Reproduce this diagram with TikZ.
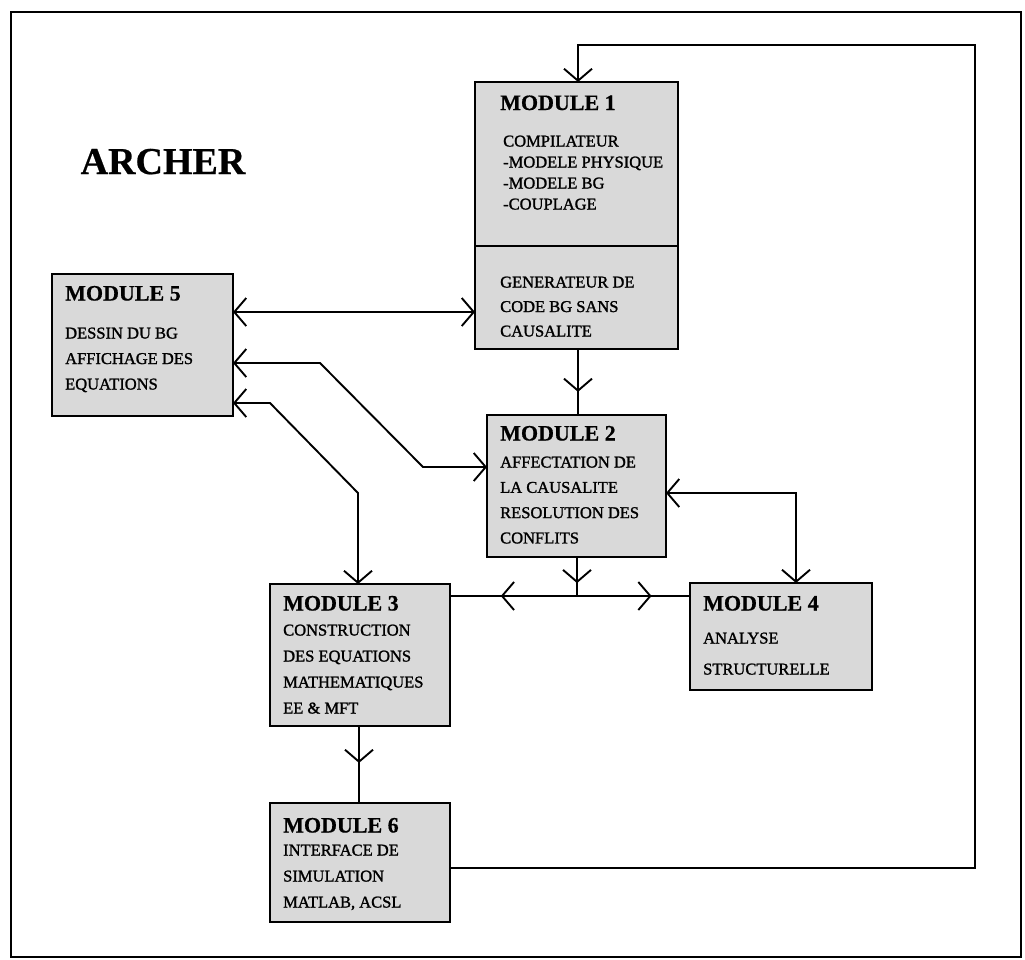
\documentclass[tikz,border=0pt]{standalone}
\usepackage{fontspec}
\setmainfont{Liberation Serif}
\newfontfamily\inkfont{Liberation Serif}[FakeBold=1.4]
\newfontfamily\headfont{Liberation Serif}[UprightFont={* Bold}, FakeBold=0.6]
\usetikzlibrary{arrows.meta,decorations.markings}

\tikzset{
  chev/.tip={Straight Barb[length=12pt,width=28pt]},
  module/.style={draw, line width=2pt, fill=black!15, inner sep=0pt, outer sep=0pt},
  conn/.style={line width=1.9pt},
  heading/.style={anchor=base west, inner sep=0pt, font=\headfont\fontsize{22}{24}\selectfont},
  body/.style={anchor=base west, inner sep=0pt, font=\inkfont\fontsize{16.5}{18}\selectfont},
  midchev/.style={postaction={decorate}, decoration={markings, mark=at position #1 with {\arrow{chev}}}},
}

\begin{document}
\begin{tikzpicture}[x=1pt,y=-1pt]
\useasboundingbox (0,0) rectangle (1025,959);
% outer frame
\draw[line width=2.4pt] (11,12) rectangle (1021,957);

\node[anchor=base, inner sep=0pt, font=\headfont\fontsize{38}{40}\selectfont] (title) at (163,174) {ARCHER};

% module boxes
\node[module, minimum width=203pt, minimum height=267pt] (m1) at (576.5,215.5) {};
\node[module, minimum width=181pt, minimum height=142pt] (m5) at (142.5,345) {};
\node[module, minimum width=179pt, minimum height=142pt] (m2) at (576.5,486) {};
\node[module, minimum width=180pt, minimum height=142pt] (m3) at (360,655) {};
\node[module, minimum width=182pt, minimum height=107pt] (m4) at (781,636.5) {};
\node[module, minimum width=180pt, minimum height=119pt] (m6) at (360,862.5) {};
\draw[line width=2pt] (m1.west |- 0,246) -- (m1.east |- 0,246);

% module texts
\node[heading] (h1) at (500,110) {MODULE 1};
\foreach \t [count=\i] in {COMPILATEUR,-MODELE PHYSIQUE,-MODELE BG,-COUPLAGE}
  \node[body] (m1a\i) at (503,{146.5+21*(\i-1)}) {\t};
\foreach \t [count=\i] in {GENERATEUR DE,CODE BG SANS,CAUSALITE}
  \node[body] (m1b\i) at (500,{287.5+24.5*(\i-1)}) {\t};

\node[heading] (h5) at (65,300.5) {MODULE 5};
\foreach \t [count=\i] in {DESSIN DU BG,AFFICHAGE DES,EQUATIONS}
  \node[body] (m5a\i) at (65,{338.5+25.5*(\i-1)}) {\t};

\node[heading] (h2) at (500,440.5) {MODULE 2};
\foreach \t [count=\i] in {AFFECTATION DE,LA CAUSALITE,RESOLUTION DES,CONFLITS}
  \node[body] (m2a\i) at (500,{467.5+25.3*(\i-1)}) {\t};

\node[heading] (h3) at (283,610.5) {MODULE 3};
\foreach \t [count=\i] in {CONSTRUCTION,DES EQUATIONS,MATHEMATIQUES,EE \& MFT}
  \node[body] (m3a\i) at (283,{635.5+26*(\i-1)}) {\t};

\node[heading] (h4) at (703,610.5) {MODULE 4};
\foreach \t [count=\i] in {ANALYSE,STRUCTURELLE}
  \node[body] (m4a\i) at (703,{643.5+31*(\i-1)}) {\t};

\node[heading] (h6) at (283,832.5) {MODULE 6};
\foreach \t [count=\i] in {INTERFACE DE,SIMULATION,{MATLAB, ACSL}}
  \node[body] (m6a\i) at (283,{855.5+26*(\i-1)}) {\t};

% routing points
\coordinate (c1) at (975,868);
\coordinate (c2) at (975,45);
\coordinate (c3) at (578,45);
\coordinate (j) at (577,596);

% feedback loop from module 6 back to module 1
\draw[conn,-chev] (m6.east |- c1) -- (c1) -- (c2) -- (c3) -- (c3 |- m1.north);

% module 5 links
\draw[conn,chev-chev] (m5.east |- 0,312) -- (m1.west |- 0,312);
\draw[conn,chev-chev] (m5.east |- 0,363) -- (320,363) -- (423,467) -- (m2.west |- 0,467);
\draw[conn,chev-chev] (m5.east |- 0,403) -- (270,403) -- (358,493) -- (358,0 |- m3.north);

% module 1 to module 2
\draw[conn,midchev=0.65] (578,0 |- m1.south) -- (578,0 |- m2.north);

% module 2 to module 4
\draw[conn,chev-chev] (m2.east |- 0,493) -- (796,493) -- (796,0 |- m4.north);

% module 2 to modules 3 and 4 through the junction
\draw[conn,midchev=0.67] (577,0 |- m2.south) -- (j);
\draw[conn,midchev=0.6] (j) -- (m3.east |- j);
\draw[conn,midchev=0.66] (j) -- (m4.west |- j);

% module 3 to module 6
\draw[conn,midchev=0.48] (359,0 |- m3.south) -- (359,0 |- m6.north);
\end{tikzpicture}
\end{document}
